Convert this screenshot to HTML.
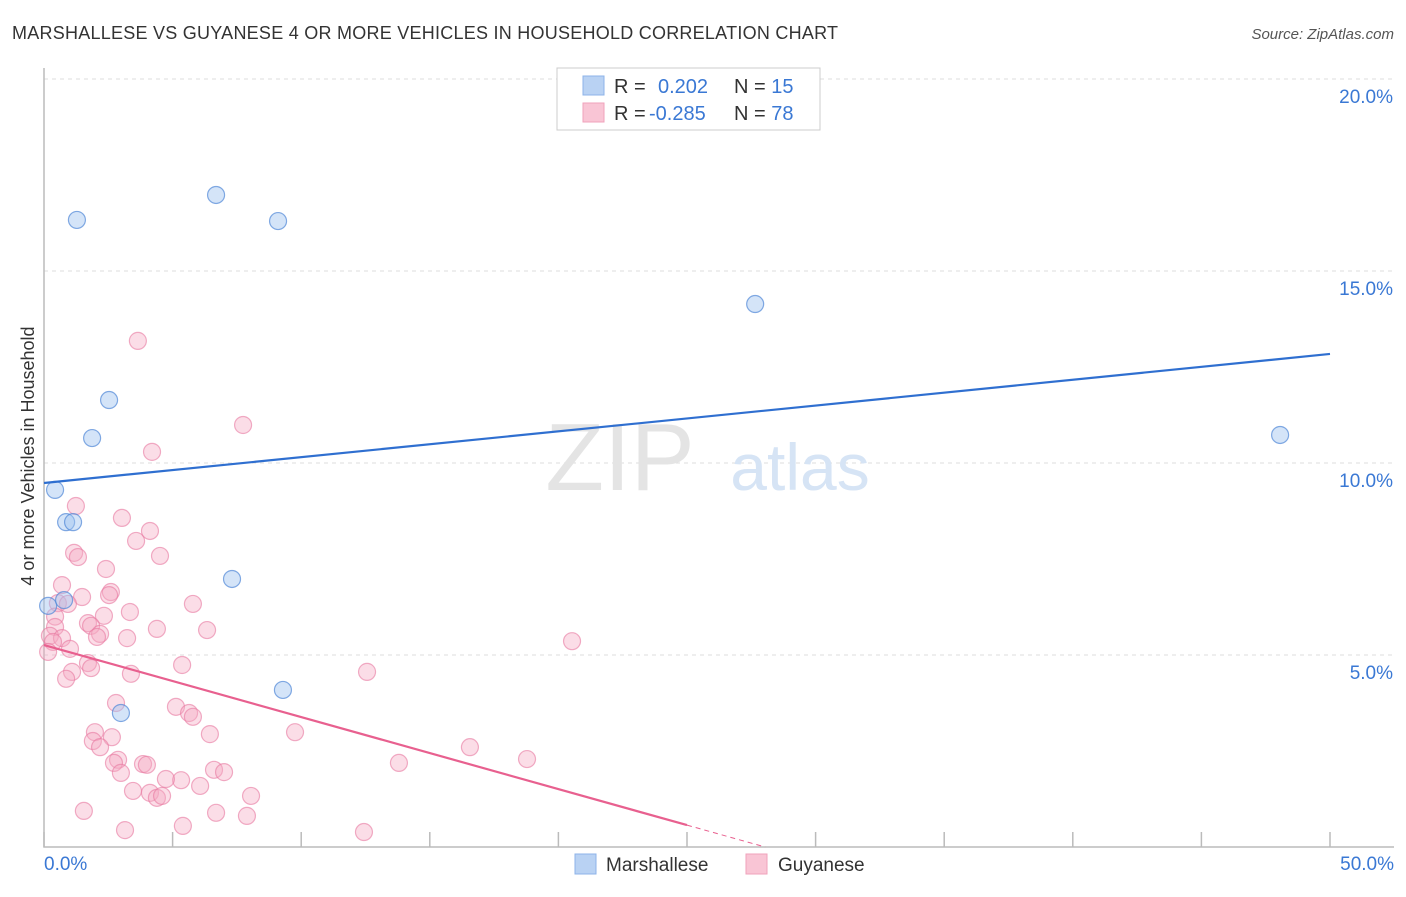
<!DOCTYPE html>
<html><head><meta charset="utf-8">
<style>
body{margin:0;background:#fff;font-family:"Liberation Sans",sans-serif;}
svg text{font-family:"Liberation Sans",sans-serif;}
</style></head>
<body>
<svg id="chart" width="1406" height="892" xmlns="http://www.w3.org/2000/svg">
<text x="12" y="39" font-size="18" fill="#333" textLength="826">MARSHALLESE VS GUYANESE 4 OR MORE VEHICLES IN HOUSEHOLD CORRELATION CHART</text>
<text x="1394" y="39" font-size="15" fill="#555" font-style="italic" text-anchor="end">Source: ZipAtlas.com</text>
<text transform="translate(34,456) rotate(-90)" font-size="18" fill="#333" text-anchor="middle">4 or more Vehicles in Household</text>
<g id="grid"></g>
<g id="axes"></g>
<text x="620" y="490" font-size="96" fill="#e4e4e4" font-family="Liberation Serif" text-anchor="middle">ZIP</text>
<text x="800" y="490" font-size="66" fill="#d6e4f5" text-anchor="middle">atlas</text>
<g id="marks"></g>
<g>
<rect x="557" y="68" width="263" height="62" fill="#fff" stroke="#ccc"/>
<rect x="583" y="76" width="21" height="19" fill="#b9d2f3" stroke="#8db3e8"/>
<rect x="583" y="103" width="21" height="19" fill="#f9c5d5" stroke="#f0a2bb"/>
<text x="614" y="93" font-size="20" fill="#333">R = <tspan x="658" fill="#3a78d4">0.202</tspan></text>
<text x="734" y="93" font-size="20" fill="#333">N = <tspan fill="#3a78d4">15</tspan></text>
<text x="614" y="120" font-size="20" fill="#333">R = <tspan x="649" fill="#3a78d4">-0.285</tspan></text>
<text x="734" y="120" font-size="20" fill="#333">N = <tspan fill="#3a78d4">78</tspan></text>
</g>
<g>
<rect x="575" y="854" width="21" height="20" fill="#b9d2f3" stroke="#8db3e8"/>
<text x="606" y="871" font-size="19" fill="#333">Marshallese</text>
<rect x="746" y="854" width="21" height="20" fill="#f9c5d5" stroke="#f0a2bb"/>
<text x="778" y="871" font-size="19" fill="#333">Guyanese</text>
</g>
</svg>
<script>
const yTicks=[5,10,15,20];
const yTickLabels=["5.0%","10.0%","15.0%","20.0%"];
const xTickLabels=["0.0%","50.0%"];
const marshX=[1.28,6.69,9.1,27.65,2.53,1.87,48.06,0.43,0.86,1.13,7.31,0.16,0.78,9.29,2.99];
const marshY=[16.33,16.98,16.3,14.14,11.64,10.65,10.73,9.3,8.46,8.46,6.98,6.28,6.43,4.09,3.49];
const guyX=[3.65,7.74,4.2,1.24,3.03,4.12,3.58,1.17,1.32,4.51,2.41,0.7,2.6,1.48,2.53,0.54,0.93,5.79,3.34,2.33,0.43,1.71,1.83,0.43,4.39,6.34,2.18,0.23,0.7,3.23,2.06,0.35,1.01,0.16,20.53,5.37,1.71,1.83,1.09,3.38,12.56,0.86,2.8,5.13,5.64,5.79,1.98,9.76,1.9,6.45,2.64,2.18,16.56,2.88,2.72,3.85,4.0,13.8,18.78,6.61,7.0,2.99,5.33,4.74,6.07,3.46,4.12,4.39,4.59,8.05,1.55,6.69,7.89,3.15,5.4,12.44];
const guyY=[13.18,10.99,10.29,8.88,8.57,8.23,7.97,7.66,7.55,7.58,7.24,6.82,6.64,6.51,6.56,6.35,6.33,6.33,6.12,6.02,6.0,5.83,5.76,5.73,5.68,5.65,5.55,5.5,5.44,5.44,5.47,5.34,5.16,5.08,5.36,4.74,4.79,4.66,4.56,4.51,4.56,4.38,3.75,3.65,3.49,3.39,2.99,2.99,2.76,2.94,2.86,2.6,2.6,2.27,2.19,2.16,2.14,2.19,2.29,2.01,1.95,1.93,1.74,1.77,1.59,1.46,1.41,1.28,1.33,1.33,0.94,0.89,0.81,0.44,0.55,0.39];
const marshTrend=[9.48,12.84];
const guyTrend=[5.26,-4.12];
const NS="http://www.w3.org/2000/svg";
const sx=v=>44+v*25.72, sy=v=>847-v*38.4;
function mk(t,a,p){const e=document.createElementNS(NS,t);for(const k in a)e.setAttribute(k,a[k]);p.appendChild(e);return e;}
const grid=document.getElementById('grid'),axes=document.getElementById('axes'),marks=document.getElementById('marks');
yTicks.forEach((v,i)=>{
 const l=mk('line',{x1:44,x2:1394,y1:sy(v),y2:sy(v),stroke:'#ddd','stroke-dasharray':'4,4'},grid);
 
 
 const t=mk('text',{x:1393,y:sy(v)+24,'font-size':19,fill:'#3a78d4','text-anchor':'end'},axes);
 t.textContent=yTickLabels[i];
 
 
});
const ax=mk('path',{d:'M44,68 V847 H1394',fill:'none',stroke:'#bbb','stroke-width':1.5},axes);


for(let i=0;i<=10;i++){const x=sx(i*5);const tk=mk('line',{x1:x,x2:x,y1:832,y2:847,stroke:'#bbb','stroke-width':1.5},axes);
 
 }
[[0,'start',44],[50,'end',1394]].forEach((d,i)=>{const t=mk('text',{x:d[2],y:870,'font-size':19,fill:'#3a78d4','text-anchor':d[1]},axes);t.textContent=xTickLabels[i];
 
 });
guyX.forEach((x,i)=>{const c=mk('circle',{cx:sx(x),cy:sy(guyY[i]),r:8.5,fill:'rgba(246,170,195,0.4)',stroke:'rgba(232,120,160,0.6)','stroke-width':1.2},marks);
 
 });
marshX.forEach((x,i)=>{const c=mk('circle',{cx:sx(x),cy:sy(marshY[i]),r:8.5,fill:'rgba(160,195,240,0.45)',stroke:'rgba(80,135,215,0.7)','stroke-width':1.2},marks);
 
 });
const bl=mk('line',{x1:sx(0),y1:sy(marshTrend[0]),x2:sx(50),y2:sy(marshTrend[1]),stroke:'#2f6fd0','stroke-width':2.2},marks);


const gy=x=>guyTrend[0]+(guyTrend[1]-guyTrend[0])*x/50;
const pl=mk('line',{x1:sx(0),y1:sy(gy(0)),x2:sx(25),y2:sy(gy(25)),stroke:'#e8608f','stroke-width':2.2},marks);


const xe=guyTrend[0]/(guyTrend[0]-guyTrend[1])*50;
const pd=mk('line',{x1:sx(25),y1:sy(gy(25)),x2:sx(xe),y2:sy(0),stroke:'#e8608f','stroke-width':1,'stroke-dasharray':'5,4'},marks);


</script>
</body></html>
